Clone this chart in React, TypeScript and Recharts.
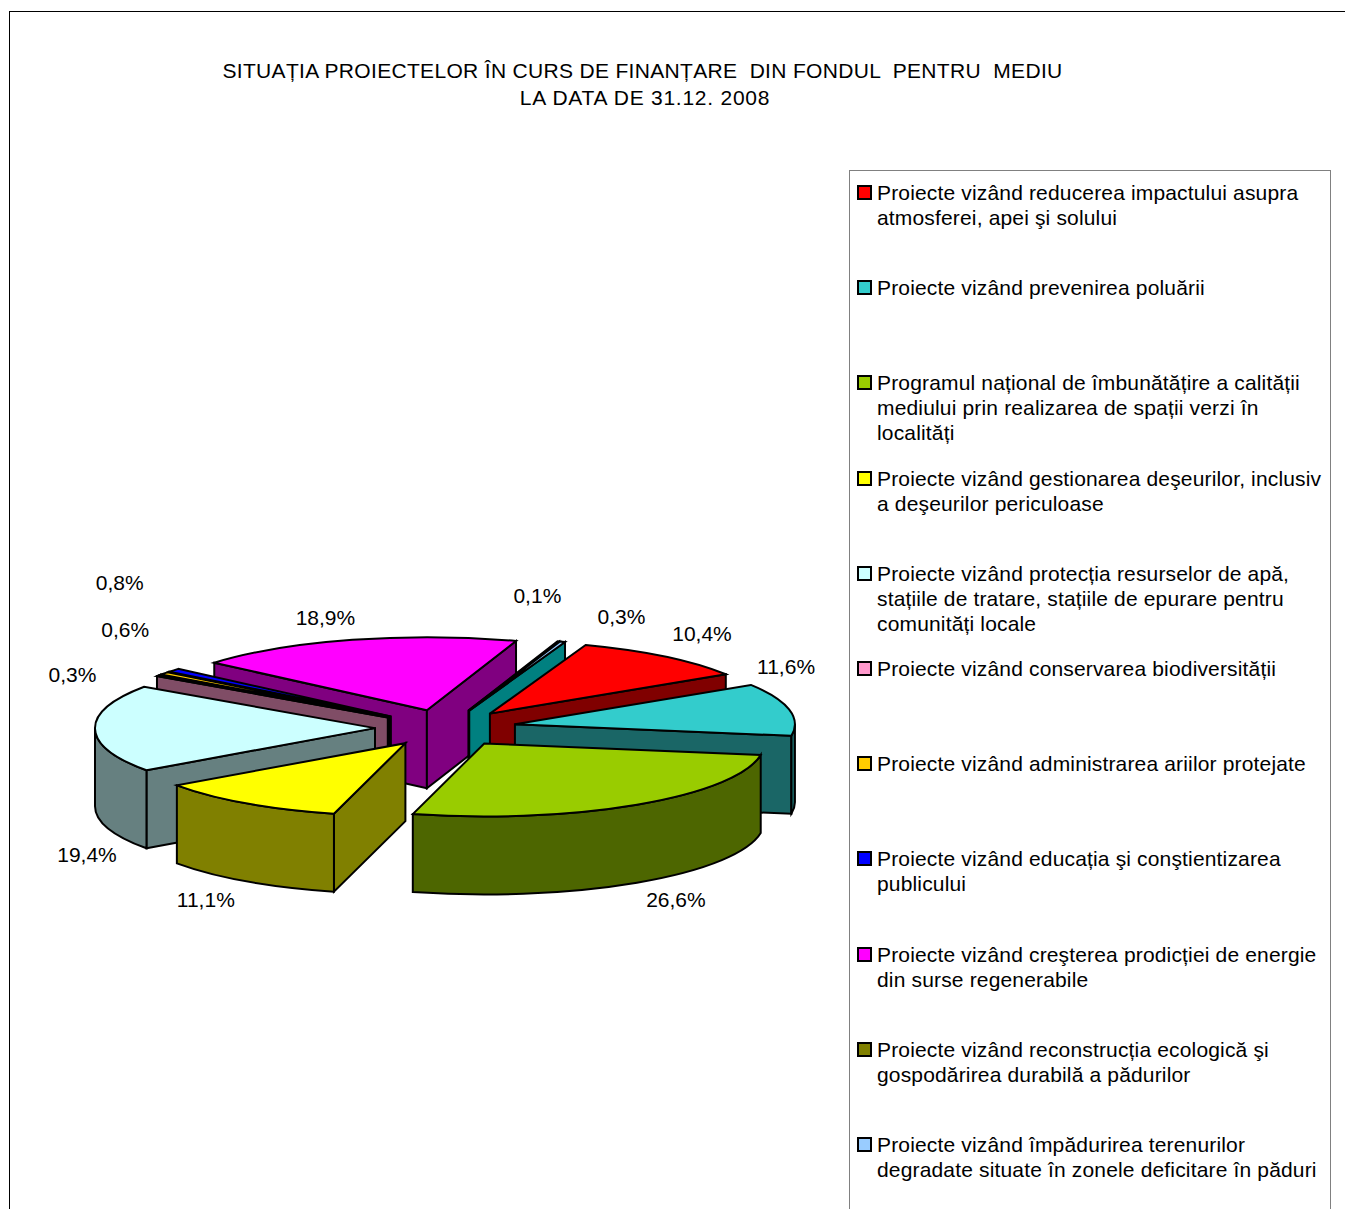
import React from "react";
import { PieChart, Pie, Legend } from "recharts";

const FONT = '"Liberation Sans", Arial, sans-serif';

const VALUES = [10.4, 11.6, 26.6, 11.1, 19.4, 0.3, 0.6, 0.8, 18.9, 0.1, 0.3];
const TOP_COLORS = [
  "#FF0000", "#33CCCC", "#99CC00", "#FFFF00", "#CCFFFF", "#FF99CC",
  "#FFCC00", "#0000FF", "#FF00FF", "#808000", "#99CCFF",
];
const SIDE_COLORS = [
  "#800000", "#1A6666", "#4D6600", "#808000", "#668080", "#804D66",
  "#000000", "#000000", "#800080", "#404000", "#008080",
];
const LEGEND_LINES = [
  ["Proiecte vizând reducerea impactului asupra", "atmosferei, apei şi solului"],
  ["Proiecte vizând prevenirea poluării"],
  ["Programul național de îmbunătățire a calității", "mediului prin realizarea de spații verzi în", "localități"],
  ["Proiecte vizând gestionarea deşeurilor, inclusiv", "a deşeurilor periculoase"],
  ["Proiecte vizând protecția resurselor de apă,", "stațiile de tratare, stațiile de epurare pentru", "comunități locale"],
  ["Proiecte vizând conservarea biodiversității"],
  ["Proiecte vizând administrarea ariilor protejate"],
  ["Proiecte vizând educația şi conştientizarea", "publicului"],
  ["Proiecte vizând creşterea prodicției de energie", "din surse regenerabile"],
  ["Proiecte vizând reconstrucția ecologică şi", "gospodărirea durabilă a pădurilor"],
  ["Proiecte vizând împădurirea terenurilor", "degradate situate în zonele deficitare în păduri"],
];
const TITLE_LINES = [
  "SITUAȚIA PROIECTELOR ÎN CURS DE FINANȚARE  DIN FONDUL  PENTRU  MEDIU",
  "LA DATA DE 31.12. 2008",
];
const TITLE_SPACING = [0.32, 0.75];

// back to front, so nearer slices cover the ones behind them
const DRAW_ORDER = [8, 7, 6, 5, 4, 9, 10, 0, 1, 3, 2];
const LABEL_NUDGE = [
  [37, -23], [-3, -43], [39, 95], [-40, 96], [-8, 126], [-86, -1],
  [-39, -44], [-54, -88], [-27, -22], [-21, -46], [59, -25],
];

const TILT = 73 / 280;
const EXPLODE = 70.7;
const DEPTH = 78;
const RAD = Math.PI / 180;

const table = VALUES.map((value, id) => ({
  id,
  value,
  fill: TOP_COLORS[id],
  side: SIDE_COLORS[id],
}));

function Slice(p: any) {
  const rx = p.outerRadius;
  const ry = rx * TILT;
  const hi = Math.max(p.startAngle, p.endAngle);
  const lo = Math.min(p.startAngle, p.endAngle);
  const ax = p.cx + EXPLODE * Math.cos(p.midAngle * RAD);
  const ay = p.cy - EXPLODE * TILT * Math.sin(p.midAngle * RAD);
  const at = (deg: number, dy = 0) =>
    `${ax + rx * Math.cos(deg * RAD)} ${ay - ry * Math.sin(deg * RAD) + dy}`;
  const line = { stroke: "#000", strokeWidth: 2, strokeLinejoin: "miter" as const };

  const face = (deg: number) =>
    `M${ax} ${ay}L${at(deg)}L${at(deg, DEPTH)}L${ax} ${ay + DEPTH}Z`;

  // the two cut faces only show when they turn towards the viewer
  const showHi = Math.cos(hi * RAD) < 0;
  const showLo = Math.cos(lo * RAD) > 0;

  // only the front half of the rim can be seen
  const walls: string[] = [];
  [[-180, 0], [-540, -360]].forEach(([from, to]) => {
    const a = Math.min(hi, to);
    const b = Math.max(lo, from);
    if (a > b) {
      walls.push(
        `M${at(a)}A${rx} ${ry} 0 0 1 ${at(b)}L${at(b, DEPTH)}A${rx} ${ry} 0 0 0 ${at(a, DEPTH)}Z`
      );
    }
  });

  const big = hi - lo > 180 ? 1 : 0;
  return (
    <g>
      {showHi && <path d={face(hi)} fill={p.side} {...line} />}
      {showLo && <path d={face(lo)} fill={p.side} {...line} />}
      {walls.map((d, i) => (
        <path key={i} d={d} fill={p.side} {...line} />
      ))}
      <path
        d={`M${ax} ${ay}L${at(hi)}A${rx} ${ry} 0 ${big} 1 ${at(lo)}Z`}
        fill={p.fill}
        {...line}
      />
    </g>
  );
}

function renderLabel(p: any) {
  const id = p.payload?.id ?? p.id ?? p.index;
  const rx = p.outerRadius + EXPLODE;
  const ry = rx * TILT;
  const [dx, dy] = LABEL_NUDGE[id];
  return (
    <text
      x={p.cx + rx * Math.cos(p.midAngle * RAD) + dx}
      y={p.cy - ry * Math.sin(p.midAngle * RAD) + dy}
      textAnchor="middle"
      dominantBaseline="central"
      fontFamily={FONT}
      fontSize={21}
      fill="#000"
    >
      {VALUES[id].toFixed(1).replace(".", ",") + "%"}
    </text>
  );
}

function LegendBox() {
  return (
    <div
      style={{
        boxSizing: "border-box",
        width: 482,
        height: 1100,
        border: "1px solid #808080",
        fontFamily: FONT,
        fontSize: 21,
        letterSpacing: 0.16,
        lineHeight: "25px",
        color: "#000",
      }}
    >
      {LEGEND_LINES.map((lines, i) => (
        <div key={i} style={{ position: "absolute", left: 28, top: 10 + i * 95.2, whiteSpace: "pre" }}>
          <span
            style={{
              position: "absolute",
              left: -20,
              top: 5,
              boxSizing: "border-box",
              width: 15,
              height: 15,
              background: TOP_COLORS[i],
              border: "2px solid #000",
            }}
          />
          {lines.map((t) => (
            <div key={t}>{t}</div>
          ))}
        </div>
      ))}
    </div>
  );
}

export default function App() {
  return (
    <div style={{ position: "absolute", left: 0, top: 0, width: 1345, height: 1209, overflow: "hidden", background: "#fff" }}>
      <div
        style={{
          position: "absolute",
          left: 9,
          top: 11,
          width: 1345,
          height: 1300,
          borderLeft: "1px solid #000",
          borderTop: "1px solid #000",
        }}
      />
      {TITLE_LINES.map((t, i) => (
        <div
          key={t}
          style={{
            position: "absolute",
            left: 0,
            width: 1285 + i * 5,
            top: 58 + i * 27,
            textAlign: "center",
            whiteSpace: "pre",
            fontFamily: FONT,
            fontSize: 21,
            letterSpacing: TITLE_SPACING[i],
            lineHeight: "25px",
            color: "#000",
          }}
        >
          {t}
        </div>
      ))}
      <PieChart width={1345} height={1209} margin={{ top: 0, right: 0, bottom: 0, left: 0 }} style={{ position: "absolute", left: 0, top: 0 }}>
        {DRAW_ORDER.map((layer, n) => (
          <Pie
            key={layer}
            data={table}
            dataKey="value"
            cx={445.7}
            cy={728}
            outerRadius={280}
            startAngle={70}
            endAngle={-290}
            isAnimationActive={false}
            labelLine={false}
            label={n === DRAW_ORDER.length - 1 ? renderLabel : false}
            legendType="none"
            shape={(p: any) => ((p.payload?.id ?? p.id) === layer ? <Slice {...p} /> : <g />)}
          />
        ))}
        <Legend
          layout="vertical"
          align="right"
          verticalAlign="top"
          content={() => <LegendBox />}
          wrapperStyle={{ left: 849, top: 170, width: 482, height: 1100 }}
        />
      </PieChart>
    </div>
  );
}
